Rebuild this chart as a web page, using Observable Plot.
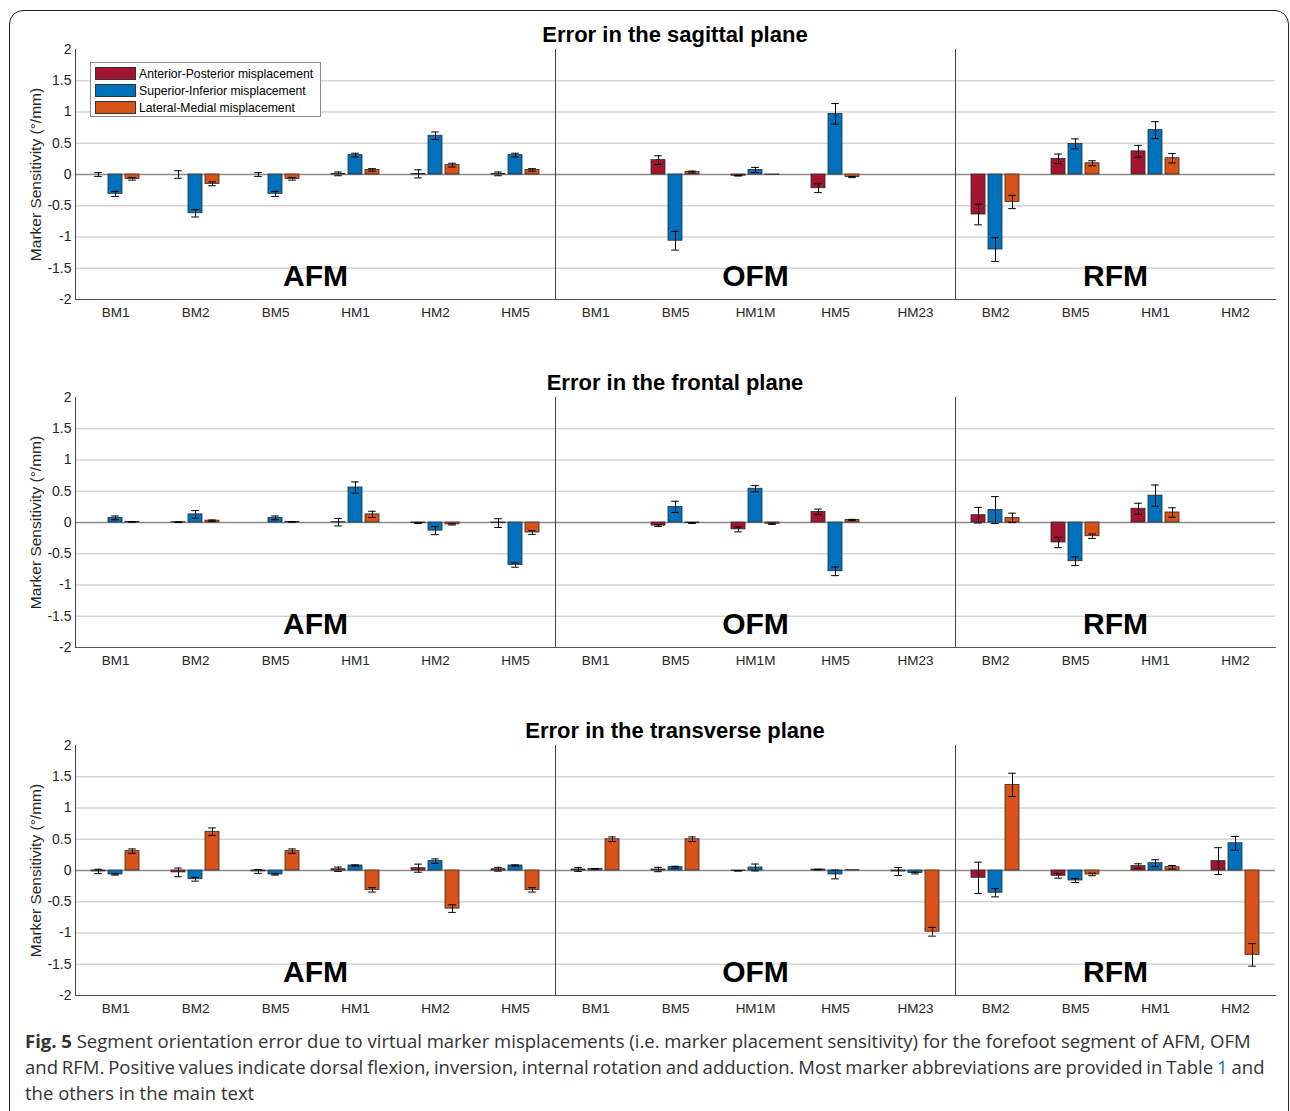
<!DOCTYPE html>
<html><head><meta charset="utf-8">
<script src="https://cdn.jsdelivr.net/npm/d3@7"></script>
<script src="https://cdn.jsdelivr.net/npm/@observablehq/plot@0.6"></script>
<style>
body{margin:0;background:#fff;font-family:"Liberation Sans",Arial,sans-serif;}
#root{position:relative;width:1290px;height:1111px;overflow:hidden;background:#fff;}
.border{position:absolute;left:9px;top:10px;width:1280px;height:1200px;border:1.5px solid #222;border-radius:14px;box-sizing:border-box;}
.title{position:absolute;left:75px;width:1200px;text-align:center;font-weight:bold;font-size:22px;line-height:24px;color:#000;}
.panel{position:absolute;left:0;}
.legend{position:absolute;left:90px;top:62px;width:231px;height:55px;border:1px solid #8c8c8c;background:#fff;box-sizing:border-box;font-size:12.2px;color:#000;}
.legend .row{position:absolute;left:4px;height:17px;display:flex;align-items:center;}
.legend .sw{width:41px;height:13px;border:1px solid #333;box-sizing:border-box;margin-right:3px;}
.caption{position:absolute;left:25px;top:1028px;font-family:"Open Sans",sans-serif;font-size:18.5px;line-height:26px;color:#333;white-space:nowrap;}
.caption .l2{word-spacing:-0.9px;}
</style></head>
<body><div id="root"><div class="border"></div></div>
<script>
// ---------- data ----------
const seriesNames = ["Anterior-Posterior misplacement", "Superior-Inferior misplacement", "Lateral-Medial misplacement"];
const seriesColors = ["#A2142F", "#0072BD", "#D95319"];
const models = ["AFM", "OFM", "RFM"];
const afmMarkers = ["BM1", "BM2", "BM5", "HM1", "HM2", "HM5"];
const ofmMarkers = ["BM1", "BM5", "HM1M", "HM5", "HM23"];
const rfmMarkers = ["BM2", "BM5", "HM1", "HM2"];
const yTicks = [2, 1.5, 1, 0.5, 0, -0.5, -1, -1.5, -2];
const gridTicks = [1.5, 1, 0.5, -0.5, -1, -1.5];
const planeTitles = ["Error in the sagittal plane", "Error in the frontal plane", "Error in the transverse plane"];

// order: AFM BM1 BM2 BM5 HM1 HM2 HM5 | OFM BM1 BM5 HM1M HM5 HM23 | RFM BM2 BM5 HM1 HM2
const sagAP   = [0, 0, 0, 0.01, 0.01, 0.01,   0, 0.23, -0.02, -0.22, 0,   -0.64, 0.25, 0.37, 0];
const sagAPsd = [0.03, 0.06, 0.03, 0.03, 0.065, 0.03,   0, 0.07, 0.005, 0.07, 0,   0.165, 0.077, 0.096, 0];
const sagSI   = [-0.31, -0.62, -0.31, 0.31, 0.62, 0.31,   0, -1.06, 0.074, 0.97, 0,   -1.20, 0.49, 0.71, 0];
const sagSIsd = [0.04, 0.06, 0.04, 0.03, 0.06, 0.03,   0, 0.15, 0.04, 0.165, 0,   0.19, 0.08, 0.135, 0];
const sagLM   = [-0.07, -0.15, -0.07, 0.074, 0.15, 0.074,   0, 0.04, -0.005, -0.04, 0,   -0.44, 0.18, 0.26, 0];
const sagLMsd = [0.02, 0.03, 0.02, 0.02, 0.03, 0.02,   0, 0.015, 0, 0.01, 0,   0.106, 0.04, 0.075, 0];

const froAP   = [0, 0.005, 0, 0.005, -0.01, -0.01,   0, -0.05, -0.11, 0.17, 0,   0.117, -0.32, 0.22, 0];
const froAPsd = [0, 0.005, 0, 0.06, 0.005, 0.07,   0, 0.015, 0.04, 0.045, 0,   0.125, 0.083, 0.088, 0];
const froSI   = [0.074, 0.13, 0.074, 0.56, -0.13, -0.68,   0, 0.25, 0.54, -0.78, 0,   0.20, -0.62, 0.43, 0];
const froSIsd = [0.03, 0.06, 0.03, 0.09, 0.065, 0.035,   0, 0.09, 0.05, 0.07, 0,   0.215, 0.07, 0.17, 0];
const froLM   = [0.01, 0.03, 0.01, 0.13, -0.03, -0.16,   0, -0.01, -0.02, 0.04, 0,   0.074, -0.22, 0.16, 0];
const froLMsd = [0.005, 0.01, 0.005, 0.05, 0.01, 0.03,   0, 0.005, 0.01, 0.01, 0,   0.075, 0.035, 0.075, 0];

const traAP   = [-0.015, -0.03, -0.015, 0.02, 0.037, 0.02,   0.016, 0.016, -0.005, 0.015, -0.016,   -0.117, -0.085, 0.07, 0.15];
const traAPsd = [0.035, 0.07, 0.03, 0.035, 0.065, 0.03,   0.03, 0.035, 0.005, 0.005, 0.065,   0.25, 0.037, 0.037, 0.215];
const traSI   = [-0.064, -0.14, -0.064, 0.08, 0.15, 0.08,   0.027, 0.053, 0.048, -0.064, -0.04,   -0.356, -0.16, 0.117, 0.436];
const traSIsd = [0.01, 0.03, 0.01, 0.01, 0.035, 0.01,   0.005, 0.015, 0.055, 0.07, 0.015,   0.066, 0.033, 0.055, 0.11];
const traLM   = [0.31, 0.62, 0.31, -0.31, -0.61, -0.31,   0.5, 0.5, 0, 0.005, -0.98,   1.37, -0.064, 0.053, -1.35];
const traLMsd = [0.035, 0.06, 0.035, 0.035, 0.06, 0.035,   0.037, 0.037, 0, 0, 0.07,   0.186, 0.02, 0.027, 0.18];

// ---------- build ----------
const markerLists = [afmMarkers, ofmMarkers, rfmMarkers];
const keys = [];
models.forEach((m, i) => markerLists[i].forEach(k => keys.push(m + "|" + k)));
// facet holding each model's big label, and whether it sits on the facet edge
const labelRows = models.map((m, i) => {
  const n = markerLists[i].length;
  const idx = n % 2 === 0 ? n / 2 - 1 : (n - 1) / 2;
  return {model: m, key: m + "|" + markerLists[i][idx], edge: n % 2 === 0};
});
const lastKeys = models.slice(0, -1).map((m, i) => m + "|" + markerLists[i][markerLists[i].length - 1]);

const planes = [
  [[sagAP, sagAPsd], [sagSI, sagSIsd], [sagLM, sagLMsd]],
  [[froAP, froAPsd], [froSI, froSIsd], [froLM, froLMsd]],
  [[traAP, traAPsd], [traSI, traSIsd], [traLM, traLMsd]]
];

const root = document.getElementById("root");
const panelTops = [39, 387, 735];

planes.forEach((plane, p) => {
  const rows = [];
  keys.forEach((k, i) => plane.forEach(([vals, sds], s) => rows.push({key: k, series: seriesNames[s], v: vals[i], e: sds[i]})));
  const errRows = rows.filter(d => d.e > 0);
  const labelStyle = {fx: "key", text: "model", dy: -23, lineAnchor: "middle", textAnchor: "middle", fontSize: 30, fontWeight: "bold", fill: "#000"};

  const chart = Plot.plot({
    width: 1290, height: 300,
    marginLeft: 75, marginRight: 15, marginTop: 10, marginBottom: 40,
    style: {background: "transparent", fontFamily: "Liberation Sans, Arial, sans-serif", overflow: "visible", color: "#262626"},
    fx: {domain: keys, padding: 0, label: null},
    x: {domain: seriesNames, paddingInner: 0.19, paddingOuter: 0.855, axis: null},
    y: {domain: [-2, 2]},
    color: {domain: seriesNames, range: seriesColors},
    marks: [
      Plot.gridY(gridTicks, {stroke: "#d6d6d6", strokeOpacity: 1, strokeWidth: 1.3}),
      Plot.ruleY([0], {stroke: "#8a8a8a", strokeWidth: 1.3}),
      Plot.barY(rows, {fx: "key", x: "series", y: "v", fill: "series", stroke: "#2b2b2b", strokeWidth: 0.8}),
      Plot.ruleX(errRows, {fx: "key", x: "series", y1: d => d.v - d.e, y2: d => d.v + d.e, stroke: "#000", strokeWidth: 1}),
      Plot.tickY(errRows, {fx: "key", x: "series", y: d => d.v - d.e, insetLeft: 3.2, insetRight: 3.2, stroke: "#000", strokeWidth: 1}),
      Plot.tickY(errRows, {fx: "key", x: "series", y: d => d.v + d.e, insetLeft: 3.2, insetRight: 3.2, stroke: "#000", strokeWidth: 1}),
      Plot.frame({anchor: "bottom", stroke: "#555", strokeWidth: 1.2}),
      Plot.frame({anchor: "left", fx: keys[0], stroke: "#444", strokeWidth: 1}),
      ...lastKeys.map(k => Plot.frame({anchor: "right", fx: k, stroke: "#444", strokeWidth: 1})),
      Plot.text(labelRows.filter(d => d.edge), {...labelStyle, frameAnchor: "bottom-right"}),
      Plot.text(labelRows.filter(d => !d.edge), {...labelStyle, frameAnchor: "bottom"}),
      Plot.axisY({ticks: yTicks, tickFormat: d => String(d), tickSize: 0, tickPadding: 4, fontSize: 14, label: null}),
      Plot.axisY({ticks: [], tickSize: 0, fontSize: 15.5,
        label: "Marker Sensitivity (°/mm)", labelAnchor: "center", labelArrow: "none", labelOffset: 46}),
      Plot.axisFx({anchor: "bottom", tickSize: 0, tickPadding: 8, fontSize: 13.5, tickFormat: k => k.split("|")[1], label: null})
    ]
  });
  const title = document.createElement("div");
  title.className = "title";
  title.style.top = (panelTops[p] - 16) + "px";
  title.textContent = planeTitles[p];
  root.appendChild(title);
  const wrap = document.createElement("div");
  wrap.className = "panel";
  wrap.style.top = panelTops[p] + "px";
  wrap.appendChild(chart);
  root.appendChild(wrap);
});

// legend (first panel only)
const legend = document.createElement("div");
legend.className = "legend";
seriesNames.forEach((name, i) => {
  const row = document.createElement("div");
  row.className = "row";
  row.style.top = (2 + i * 17) + "px";
  row.innerHTML = `<div class="sw" style="background:${seriesColors[i]}"></div><span>${name}</span>`;
  legend.appendChild(row);
});
root.appendChild(legend);

// caption
const cap = document.createElement("div");
cap.className = "caption";
cap.innerHTML = `<b>Fig. 5</b> Segment orientation error due to virtual marker misplacements (i.e. marker placement sensitivity) for the forefoot segment of AFM, OFM<br><span class="l2">and RFM. Positive values indicate dorsal flexion, inversion, internal rotation and adduction. Most marker abbreviations are provided in Table <span style="color:#1a6fc6">1</span> and</span><br>the others in the main text`;
root.appendChild(cap);
</script>
</body></html>
